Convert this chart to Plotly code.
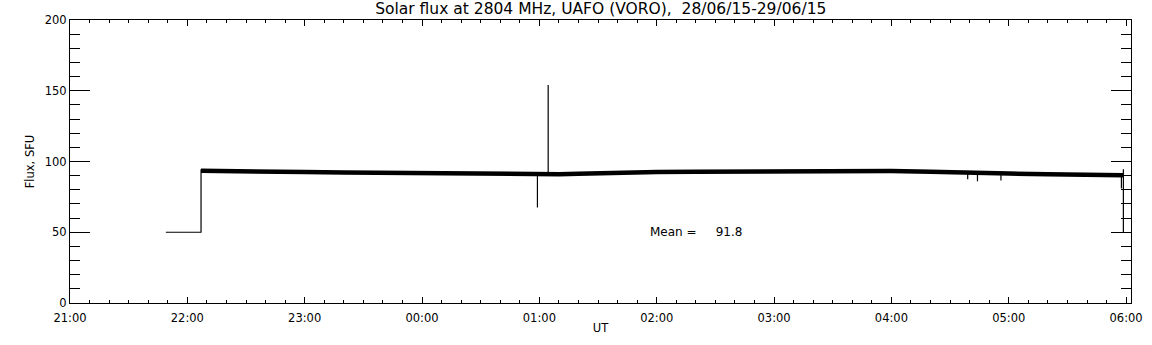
import plotly.graph_objects as go

# Pre-observation calibration level and jump to flux (thin line)
step_times = ["2015-06-28 21:49:00", "2015-06-28 22:07:00", "2015-06-28 22:07:00"]
step_values = [50, 50, 94.5]

# Main flux record (SFU)
flux_times = [
    "2015-06-28 22:07:00", "2015-06-28 22:20:00", "2015-06-28 22:40:00", "2015-06-28 23:00:00",
    "2015-06-28 23:20:00", "2015-06-28 23:40:00", "2015-06-29 00:00:00", "2015-06-29 00:20:00",
    "2015-06-29 00:40:00", "2015-06-29 01:00:00", "2015-06-29 01:10:00", "2015-06-29 01:20:00",
    "2015-06-29 01:40:00", "2015-06-29 02:00:00", "2015-06-29 02:20:00", "2015-06-29 02:40:00",
    "2015-06-29 03:00:00", "2015-06-29 03:20:00", "2015-06-29 03:40:00", "2015-06-29 04:00:00",
    "2015-06-29 04:20:00", "2015-06-29 04:30:00", "2015-06-29 04:40:00", "2015-06-29 05:00:00",
    "2015-06-29 05:20:00", "2015-06-29 05:40:00", "2015-06-29 05:55:00", "2015-06-29 05:58:30",
]
flux_values = [
    93.4, 93.0, 92.8, 92.5,
    92.3, 92.0, 91.9, 91.8,
    91.6, 91.3, 91.0, 91.4,
    92.2, 92.6, 92.8, 93.0,
    93.0, 93.2, 93.3, 93.2,
    92.8, 92.3, 91.9, 91.5,
    91.0, 90.5, 90.0, 90.3,
]

# Short spikes: time, base level, extreme value
spike_times = ["2015-06-29 00:59:00", "2015-06-29 01:04:30", "2015-06-29 04:39:00",
               "2015-06-29 04:44:00", "2015-06-29 04:56:00", "2015-06-29 05:57:36",
               "2015-06-29 05:58:36"]
spike_base = [91.5, 91.0, 92.0, 91.8, 91.5, 90.0, 94.5]
spike_peak = [67.5, 154.0, 87.5, 86.0, 86.5, 81.0, 50.0]

mean_value = 91.8

# build thin segments from spikes
sx, sy = [], []
for t, b, p in zip(spike_times, spike_base, spike_peak):
    sx += [t, t, None]
    sy += [b, p, None]

fig = go.Figure()
fig.add_trace(go.Scatter(x=flux_times, y=flux_values, mode="lines",
                         line=dict(color="black", width=4.5), hoverinfo="skip"))
fig.add_trace(go.Scatter(x=step_times, y=step_values, mode="lines",
                         line=dict(color="black", width=1.2), hoverinfo="skip"))
fig.add_trace(go.Scatter(x=sx, y=sy, mode="lines",
                         line=dict(color="black", width=1.2), hoverinfo="skip",
                         connectgaps=False))

fig.add_annotation(x="2015-06-29 01:55:30", y=50.5, xref="x", yref="y",
                   text="Mean =\u00a0\u00a0\u00a0\u00a0\u00a0" + f"{mean_value:.1f}",
                   showarrow=False, xanchor="left", yanchor="middle",
                   font=dict(family="DejaVu Sans", size=12, color="black"))

font = dict(family="DejaVu Sans", size=11.5, color="black")

fig.update_layout(
    width=1152, height=345,
    margin=dict(l=70, r=21, t=20, b=42),
    paper_bgcolor="white", plot_bgcolor="white",
    showlegend=False,
    font=font,
    title=dict(text="Solar flux at 2804 MHz, UAFO (VORO),\u00a0\u00a028/06/15-29/06/15",
               x=0.5215, xanchor="center", y=1.0, yanchor="top", yref="container",
               pad=dict(t=3),
               font=dict(family="DejaVu Sans", size=15.5, color="black")),
)

fig.update_xaxes(
    type="date", automargin=False,
    range=["2015-06-28 21:00:00", "2015-06-29 06:02:30"],
    tick0="2015-06-28 21:00:00", dtick=3600000, tickformat="%H:%M",
    ticks="inside", ticklen=6, tickwidth=1, tickcolor="black",
    minor=dict(dtick=600000, ticks="inside", ticklen=3, tickcolor="black", tickwidth=1),
    showline=True, linecolor="black", linewidth=1, mirror="allticks",
    showgrid=False, zeroline=False, tickfont=font, ticklabelstandoff=4,
    title=dict(text="UT", font=font, standoff=0),
)
fig.update_yaxes(
    automargin=False,
    range=[0, 200], tick0=0, dtick=50,
    ticks="inside", ticklen=20, tickwidth=1, tickcolor="black",
    minor=dict(dtick=10, ticks="inside", ticklen=10, tickcolor="black", tickwidth=1),
    showline=True, linecolor="black", linewidth=1, mirror="allticks",
    showgrid=False, zeroline=False, tickfont=font,
    title=dict(text="Flux, SFU", font=font, standoff=7),
)

fig.write_html("out.html", config={"displayModeBar": False},
               post_script="document.body.style.margin='0';document.body.style.overflow='hidden';")
